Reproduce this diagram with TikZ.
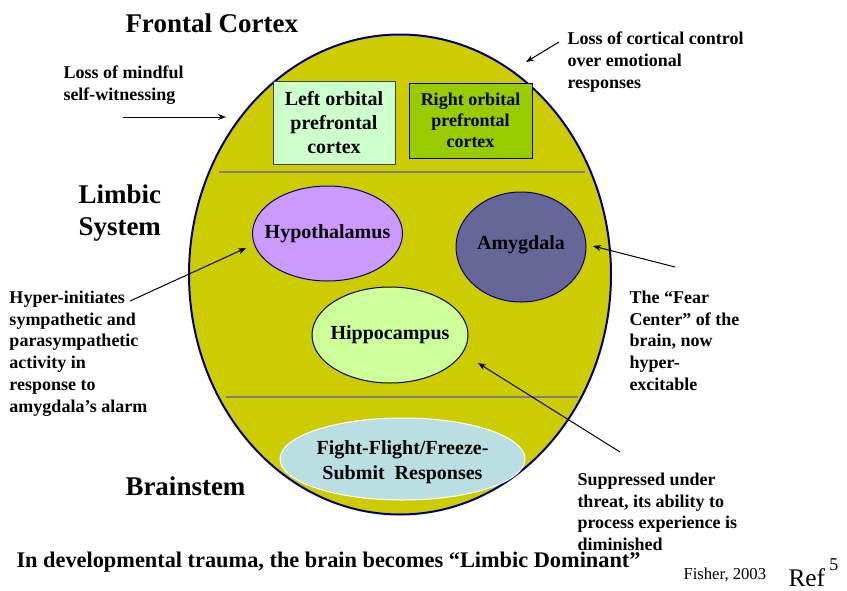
\documentclass[tikz,border=0pt]{standalone}
\usepackage{fontspec}
\setmainfont{Liberation Serif}
\usetikzlibrary{shapes.geometric,arrows.meta}

\definecolor{brainolive}{HTML}{CCCC00}
\definecolor{brainnavy}{HTML}{000080}
\definecolor{dividergray}{HTML}{808080}
\definecolor{leftpfc}{HTML}{CCFFCC}
\definecolor{rightpfc}{HTML}{99CC00}
\definecolor{hypofill}{HTML}{CC99FF}
\definecolor{amygfill}{HTML}{666699}
\definecolor{hippofill}{HTML}{CCFF99}
\definecolor{ffffill}{HTML}{B9DFE3}

\tikzset{every picture/.style={line width=0.75pt}}
\tikzset{
  heading/.style={inner sep=0pt, align=left, font=\bfseries\fontsize{20.25}{24}\selectfont},
  note/.style={anchor=north west, inner sep=0pt, align=left, font=\bfseries\fontsize{13.5}{16.3}\selectfont},
  region/.style={ellipse, inner sep=0pt},
  regiontext/.style={inner sep=0pt, align=center, font=\bfseries\fontsize{15}{18.75}\selectfont},
  pfcbox/.style={rectangle, inner sep=0pt, align=center},
  divider/.style={draw=dividergray, line width=1.5pt},
  callout/.style={-{Stealth[length=6pt,width=4.5pt]}}
}

\begin{document}
\begin{tikzpicture}[x=0.75pt,y=0.75pt,yscale=-1,xscale=1]
        \useasboundingbox (0,0) rectangle (847,590);

        % brain outline and the three levels
        \draw [draw=brainnavy, fill=brainolive, line width=1.5pt] (400,274.5) circle [x radius=211, y radius=240];
        \draw [divider] (219,172) -- (585,172);
        \draw [divider] (226,397) -- (578,397);

        \node (leftofc) [pfcbox, draw=black!75, fill=leftpfc, minimum width=91.5pt, minimum height=62.25pt, font=\bfseries\fontsize{15}{18}\selectfont] at (334,122.5) {Left orbital\\prefrontal\\cortex};
        \node (rightofc) [pfcbox, draw=brainnavy, fill=rightpfc, minimum width=92.25pt, minimum height=56.25pt, font=\bfseries\fontsize{13.5}{16}\selectfont] at (470.5,120.5) {Right orbital\\prefrontal\\cortex};

        \node (hypo) [region, draw=brainnavy, fill=hypofill, minimum width=112.5pt, minimum height=71.25pt,
              label={[regiontext]center:Hypothalamus}] at (327.5,233.5) {};
        \node (amyg) [region, draw=brainnavy, fill=amygfill, minimum width=97.5pt, minimum height=82.5pt,
              label={[regiontext, yshift=2pt]center:Amygdala}] at (521,247) {};
        \node (hippo) [region, draw=black, fill=hippofill, minimum width=117pt, minimum height=72pt,
              label={[regiontext]center:Hippocampus}] at (390,335) {};
        \node (fff) [region, draw=white, fill=ffffill, minimum width=183.75pt, minimum height=61.5pt,
              label={[regiontext, yshift=-2.5pt]center:Fight-Flight/Freeze-\\Submit\ \ Responses}] at (402.5,459) {};

        % level names
        \node (frontal) [heading, anchor=base west] at (125,32) {Frontal Cortex};
        \node (limbic) [heading, anchor=north west] at (78,184.5) {Limbic\\System};
        \node (brainstem) [heading, anchor=base west] at (125,495) {Brainstem};

        % side notes
        \node (mindful) [note] at (63,65.5) {Loss of mindful\\self-witnessing};
        \node (cortical) [note] at (567,31.5) {Loss of cortical control\\over emotional\\responses};
        \node (hyperinit) [note] at (9,290.5) {Hyper-initiates\\sympathetic and\\parasympathetic\\activity in\\response to\\amygdala’s alarm};
        \node (fearcenter) [note] at (629,290.5) {The “Fear\\Center” of the\\brain, now\\hyper-\\excitable};
        \node (suppressed) [note] at (577,472.5) {Suppressed under\\threat, its ability to\\process experience is\\diminished};

        \node (caption) [anchor=base west, inner sep=0pt, font=\bfseries\fontsize{16.75}{20}\selectfont] at (16,567) {In developmental trauma, the brain becomes “Limbic Dominant”};
        \node (source) [anchor=base west, inner sep=0pt, font=\fontsize{12.5}{15}\selectfont] at (683,579) {Fisher, 2003};
        \node (reference) [anchor=base west, inner sep=0pt, font=\fontsize{19}{22}\selectfont] at (788,586) {Ref\,\raisebox{0.6em}{\fontsize{13.5}{15}\selectfont 5}};

        % arrows
        \coordinate (mindfulTail) at (123,117);
        \coordinate (mindfulHead) at (226,117);
        \coordinate (corticalTail) at (559,42);
        \coordinate (corticalHead) at (526,62);
        \coordinate (hyperTail) at (130,301);
        \coordinate (hyperHead) at (246,248);
        \coordinate (fearTail) at (675,267);
        \coordinate (fearHead) at (593,246);
        \coordinate (suppTail) at (620,452);
        \coordinate (suppHead) at (478,363);

        \draw [callout] (mindfulTail) -- (mindfulHead);
        \draw [callout] (corticalTail) -- (corticalHead);
        \draw [callout] (hyperTail) -- (hyperHead);
        \draw [callout] (fearTail) -- (fearHead);
        \draw [callout] (suppTail) -- (suppHead);
    \end{tikzpicture}
\end{document}
